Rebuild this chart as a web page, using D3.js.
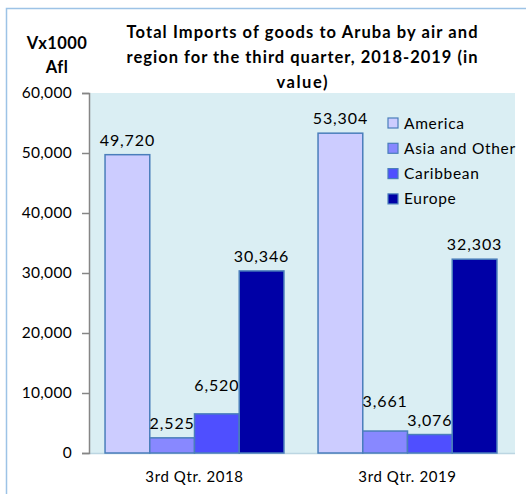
<!DOCTYPE html>
<html><head><meta charset="utf-8">
<script src="https://cdn.jsdelivr.net/npm/d3@7"></script>
<style>html,body{margin:0;padding:0;background:#fff;}svg{display:block;}</style>
</head><body>
<script>
const categories = ["3rd Qtr. 2018", "3rd Qtr. 2019"];
const seriesNames = ["America", "Asia and Other", "Caribbean", "Europe"];
const america = [49720, 53304];
const asiaOther = [2525, 3661];
const caribbean = [6520, 3076];
const europe = [30346, 32303];
const yTicks = [0, 10000, 20000, 30000, 40000, 50000, 60000];
const titleLines = ["Total Imports of goods to Aruba by air and", "region for the third quarter, 2018-2019 (in", "value)"];
const yTitleLines = ["Vx1000", "Afl"];

const seriesValues = [america, asiaOther, caribbean, europe];
const colors = ["#CCCCFF", "#8888FF", "#4F4FFF", "#0000A6"];
// manual label lifts (style), as in the reference where labels were moved
const labelLift = {"0|2": 14, "1|1": 15};
const titleWidths = [351, 351, 51];

const W = 526, H = 494;
const font = "Lato, 'Open Sans', sans-serif";
const svg = d3.select("body").append("svg").attr("width", W).attr("height", H);

// outer frame
svg.append("rect").attr("x", 6.5).attr("y", 8.5).attr("width", 540).attr("height", 500)
  .attr("fill", "#fff").attr("stroke", "#9DC3E6").attr("stroke-width", 1.5);

const plot = {left: 89, right: 515, top: 93, bottom: 453};
const y = d3.scaleLinear().domain([0, 60000]).range([plot.bottom, plot.top]);
const x0 = d3.scaleBand().domain(categories).range([88, 514]).paddingInner(0.16).paddingOuter(0.08);
const x1 = d3.scaleBand().domain(d3.range(seriesNames.length)).range([0, x0.bandwidth()]);

svg.append("rect").attr("x", plot.left).attr("y", plot.top)
  .attr("width", plot.right - plot.left).attr("height", plot.bottom - plot.top)
  .attr("fill", "#DAEEF3");

// bottom axis line
svg.append("line").attr("x1", plot.left).attr("x2", plot.right)
  .attr("y1", plot.bottom + 0.5).attr("y2", plot.bottom + 0.5)
  .attr("stroke", "#bcd6e2").attr("stroke-width", 1.5);

// y axis
const yAxis = svg.append("g").attr("transform", `translate(${plot.left},0)`)
  .call(d3.axisLeft(y).tickValues(yTicks).tickSize(7).tickPadding(10).tickFormat(d3.format(",")));
yAxis.select(".domain").attr("stroke", "#868686").attr("stroke-width", 1.5);
yAxis.selectAll(".tick line").attr("stroke", "#868686").attr("stroke-width", 1.5);
yAxis.selectAll(".tick text").attr("font-family", font).attr("font-size", 15.5)
  .attr("letter-spacing", 0.3).attr("fill", "#000");

// bars
const groups = svg.selectAll("g.grp").data(categories).join("g").attr("class", "grp")
  .attr("transform", d => `translate(${x0(d)},0)`);
groups.each(function(cat, ci) {
  const g = d3.select(this);
  seriesNames.forEach((s, si) => {
    const v = seriesValues[si][ci];
    g.append("rect").attr("x", x1(si)).attr("y", y(v))
      .attr("width", x1.bandwidth()).attr("height", y(0) - y(v))
      .attr("fill", colors[si]).attr("stroke", "#4A7EBB").attr("stroke-width", 1.5);
    const lift = labelLift[ci + "|" + si] || 0;
    g.append("text").attr("x", x1(si) + x1.bandwidth() / 2).attr("y", y(v) - 9 - lift)
      .attr("text-anchor", "middle").attr("font-family", font).attr("font-size", 16)
      .attr("letter-spacing", 0.9).attr("fill", "#000").text(d3.format(",")(v));
  });
});

// x labels
svg.selectAll("text.xl").data(categories).join("text").attr("class", "xl")
  .attr("x", d => x0(d) + x0.bandwidth() / 2).attr("y", 482)
  .attr("text-anchor", "middle").attr("font-family", font).attr("font-size", 15)
  .attr("letter-spacing", 0.6).attr("fill", "#000").text(d => d);

// legend
const leg = svg.append("g").attr("transform", "translate(388,123)");
seriesNames.forEach((s, i) => {
  const r = leg.append("g").attr("transform", `translate(0,${i * 25.3})`);
  r.append("rect").attr("x", 0).attr("y", -5).attr("width", 10).attr("height", 10)
    .attr("fill", colors[i]).attr("stroke", "#4A7EBB").attr("stroke-width", 1.2);
  r.append("text").attr("x", 16).attr("y", 5.5).attr("font-family", font).attr("font-size", 15.5)
    .attr("letter-spacing", 0.7).attr("fill", "#000").text(s);
});

// title
svg.selectAll("text.tt").data(titleLines).join("text").attr("class", "tt")
  .attr("x", 302).attr("y", (d, i) => 38 + i * 25)
  .attr("text-anchor", "middle").attr("font-family", font).attr("font-weight", "bold")
  .attr("font-size", 16.5).attr("textLength", (d, i) => titleWidths[i])
  .attr("lengthAdjust", "spacing").attr("fill", "#000").text(d => d);

// y title
svg.selectAll("text.yt").data(yTitleLines).join("text").attr("class", "yt")
  .attr("x", 57).attr("y", (d, i) => 49 + i * 24)
  .attr("text-anchor", "middle").attr("font-family", font).attr("font-weight", "bold")
  .attr("font-size", 16.5).attr("letter-spacing", 0.4).attr("fill", "#000").text(d => d);
</script>
</body></html>
